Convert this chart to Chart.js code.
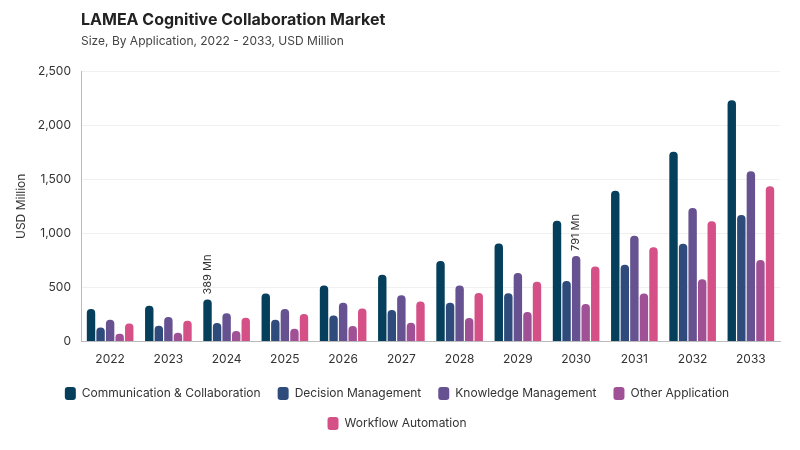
<!DOCTYPE html>
<html>
<head>
<meta charset="utf-8">
<script src="https://cdn.jsdelivr.net/npm/chart.js@4.4.1/dist/chart.umd.min.js"></script>
<style>
    body { margin: 0; background: #fff; font-family: Inter, "Noto Sans", sans-serif; }
    #wrap { position: relative; width: 800px; height: 450px; }
    #title { position: absolute; left: 81px; top: 9px; font-size: 16px; font-weight: 700; color: #222; }
    #subtitle { position: absolute; left: 81px; top: 33px; font-size: 12px; color: #444; }
    canvas { position: absolute; left: 0; top: 0; }
</style>
</head>
<body>
<div id="wrap">
    <canvas id="myChart" width="800" height="450"></canvas>
    <div id="title">LAMEA Cognitive Collaboration Market</div>
    <div id="subtitle">Size, By Application, 2022 - 2033, USD Million</div>
</div>
<script>
const years = ['2022', '2023', '2024', '2025', '2026', '2027', '2028', '2029', '2030', '2031', '2032', '2033'];

const communication = [302, 332, 389, 444, 519, 618, 745, 907, 1117, 1394, 1753, 2230];
const decision = [130, 146, 171, 202, 242, 292, 360, 447, 559, 709, 903, 1169];
const knowledge = [202, 227, 261, 302, 360, 428, 518, 633, 791, 978, 1234, 1574];
const other = [72, 81, 97, 118, 143, 174, 218, 274, 348, 445, 575, 755];
const workflow = [168, 193, 221, 255, 305, 370, 450, 553, 693, 872, 1113, 1436];

const seriesNames = ['Communication & Collaboration', 'Decision Management', 'Knowledge Management', 'Other Application', 'Workflow Automation'];
const seriesColors = ['#053f5c', '#2f4b7c', '#665191', '#a05195', '#d45087'];

// which bars get a value label: [series, year index]
const callouts = [[0, 2], [2, 8]];

const ctx = document.getElementById('myChart');

const calloutPlugin = {
    id: 'callouts',
    afterDatasetsDraw(chart) {
        const c = chart.ctx;
        c.save();
        c.font = '11px Inter, "Noto Sans", sans-serif';
        c.fillStyle = '#333';
        c.textAlign = 'left';
        c.textBaseline = 'middle';
        callouts.forEach(([s, i]) => {
            const bar = chart.getDatasetMeta(s).data[i];
            const value = chart.data.datasets[s].data[i];
            c.save();
            c.translate(bar.x, bar.y - 5);
            c.rotate(-Math.PI / 2);
            c.fillText(value + ' Mn', 0, 0);
            c.restore();
        });
        c.restore();
    }
};

const allSeries = [communication, decision, knowledge, other, workflow];

new Chart(ctx, {
    type: 'bar',
    data: {
        labels: years,
        datasets: allSeries.map((d, k) => ({
            label: seriesNames[k],
            data: d,
            backgroundColor: seriesColors[k],
            borderRadius: 4,
            borderSkipped: 'start',
            categoryPercentage: 0.82,
            barPercentage: 0.88
        }))
    },
    options: {
        responsive: false,
        animation: false,
        layout: {
            padding: {top: 71, right: 20, left: 14, bottom: 10}
        },
        plugins: {
            tooltip: {enabled: false},
            legend: {
                position: 'bottom',
                labels: {
                    color: '#333',
                    font: {size: 12, family: 'Inter, "Noto Sans", sans-serif'},
                    boxWidth: 11,
                    boxHeight: 13,
                    useBorderRadius: true,
                    borderRadius: 3,
                    padding: 17
                }
            }
        },
        scales: {
            x: {
                grid: {display: false},
                border: {color: '#bbb'},
                ticks: {color: '#333', font: {size: 12, family: 'Inter, "Noto Sans", sans-serif'}}
            },
            y: {
                min: 0,
                max: 2500,
                afterFit: (scale) => { scale.width = 67; },
                ticks: {
                    stepSize: 500,
                    color: '#333',
                    padding: 10,
                    font: {size: 12, family: 'Inter, "Noto Sans", sans-serif'}
                },
                grid: {color: '#f0f0f0', drawTicks: false},
                border: {color: '#bbb'},
                title: {
                    display: true,
                    text: 'USD Million',
                    color: '#333',
                    padding: {top: 0, bottom: 2},
                    font: {size: 12, family: 'Inter, "Noto Sans", sans-serif'}
                }
            }
        }
    },
    plugins: [calloutPlugin]
});
</script>
</body>
</html>
